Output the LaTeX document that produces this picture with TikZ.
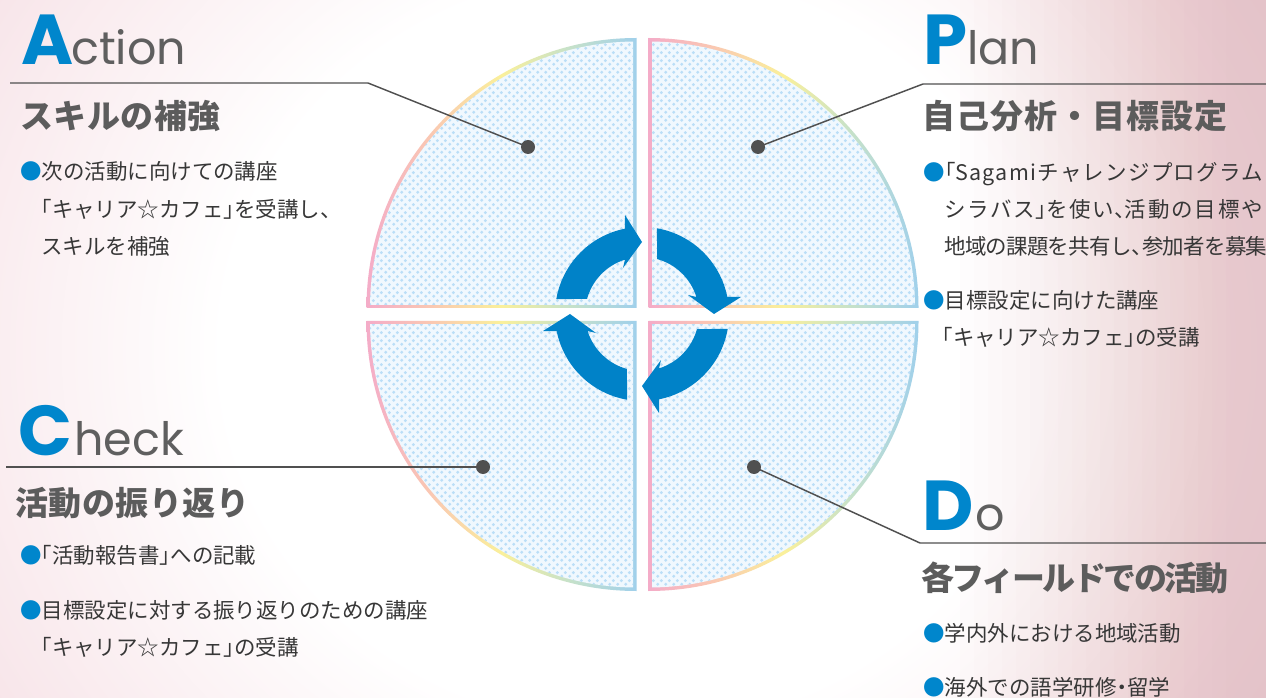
\documentclass[tikz,border=0pt]{standalone}
\usepackage{fontspec}
\setmainfont{Noto Sans CJK JP}
\newfontfamily\jp{Noto Sans CJK JP}
\newfontfamily\jph[RawFeature=+halt]{Noto Sans CJK JP}
\newfontfamily\pop{Poppins}
\usetikzlibrary{calc,patterns}

\definecolor{bgA}{RGB}{248,230,234}
\definecolor{bgB}{RGB}{238,194,202}
\definecolor{bgR}{RGB}{222,150,158}
\definecolor{qpink}{RGB}{244,172,200}
\definecolor{qpeach}{RGB}{250,200,178}
\definecolor{qyellow}{RGB}{250,240,155}
\definecolor{qgreen}{RGB}{200,226,200}
\definecolor{qblue}{RGB}{160,208,235}
\definecolor{qbase}{RGB}{240,248,254}
\definecolor{qdot}{RGB}{186,222,247}
\definecolor{arrowblue}{RGB}{0,130,200}
\definecolor{titleblue}{RGB}{0,134,204}
\definecolor{leadgray}{RGB}{80,80,80}
\definecolor{headgray}{RGB}{92,92,92}
\definecolor{bodygray}{RGB}{55,55,55}
\definecolor{lowgray}{RGB}{95,95,95}

\pgfdeclareradialshading{bgrad}{\pgfpoint{0bp}{0bp}}{color(0bp)=(white); color(14bp)=(white); color(25bp)=(bgA); color(36bp)=(bgB); color(50bp)=(bgB)}
\pgfdeclarehorizontalshading{rainbowq}{100bp}{color(0bp)=(qpink); color(25bp)=(qpink); color(37bp)=(qpeach); color(50bp)=(qyellow); color(62bp)=(qgreen); color(75bp)=(qblue); color(100bp)=(qblue)}
\pgfdeclarepatternformonly{qdots}{\pgfqpoint{0pt}{0pt}}{\pgfqpoint{6pt}{6pt}}{\pgfqpoint{6pt}{6pt}}{%
  \pgfpathcircle{\pgfqpoint{1.5pt}{1.5pt}}{1.35pt}%
  \pgfpathcircle{\pgfqpoint{4.5pt}{4.5pt}}{1.35pt}%
  \pgfusepath{fill}}

\newcommand\hb[1]{{\jph #1}}
\newcommand\blt{{\color{titleblue}●}}
\newcommand\lsp[2]{{\addfontfeatures{LetterSpace=#1}#2}}

\newcommand\quadrant[5]{%
  \shade[shading=rainbowq] (#1,#2) -- ++(#5:270) arc[start angle=#5, delta angle=90, radius=270] -- cycle;
  \begin{scope}
    \clip ({#1+(#3)*3.5},{#2+(#4)*3.5}) rectangle ({#1+(#3)*300},{#2+(#4)*300});
    \fill[qfill] (#1,#2) circle[radius=266.5];
  \end{scope}}

\tikzset{
  qfill/.style={fill=qbase, postaction={pattern=qdots, pattern color=qdot}},
  leader/.style={draw=leadgray, line width=1.1pt},
  dotn/.style={circle, fill=leadgray, minimum size=10.5pt, inner sep=0pt},
  capL/.style={anchor=base west, inner sep=0pt, text=titleblue, font=\pop\bfseries\fontsize{53pt}{53pt}\selectfont},
  lowL/.style={anchor=base west, inner sep=0pt, text=lowgray, font=\pop\fontsize{34.5pt}{34.5pt}\selectfont},
  headL/.style={anchor=base west, inner sep=0pt, text=headgray, font=\jp\bfseries\fontsize{24.75pt}{24.75pt}\selectfont},
  bodyL/.style={anchor=base west, inner sep=0pt, text=bodygray, font=\jp\fontsize{16.1pt}{16.1pt}\selectfont},
}

\begin{document}
\begin{tikzpicture}[x=0.75pt,y=-0.75pt]
\useasboundingbox (0,0) rectangle (1266,698);
% background
\begin{scope}
  \clip (0,0) rectangle (1266,698);
  \shade[shading=bgrad] (-100,-320) rectangle (1366,1018);
  \foreach \i in {0,...,19}{
    \fill[bgR, fill opacity=0.02] ({960+\i*14},0) rectangle (1266,698);}
\end{scope}

% quadrants
\quadrant{636.5}{308}{-1}{-1}{180}
\quadrant{648.5}{308}{1}{-1}{270}
\quadrant{648.5}{321}{1}{1}{0}
\quadrant{636.5}{321}{-1}{1}{90}

% cycle arrows
\foreach \r in {0,-90,-180,-270}{
  \begin{scope}[shift={(642,314)}, rotate=\r]
    \fill[arrowblue] (-170.1:87) arc[start angle=-170.1, end angle=-101.3, radius=87]
      -- (-17,-99) -- (0,-72) -- (-19,-46) -- (-107.4:57)
      arc[start angle=-107.4, end angle=-164.7, radius=57] -- cycle;
  \end{scope}}

% leader dots and lines
\node[dotn] (dA) at (528,147) {};
\node[dotn] (dP) at (758,147) {};
\node[dotn] (dC) at (483,467) {};
\node[dotn] (dD) at (754,467) {};
\coordinate (lA) at (10,83);  \coordinate (kA) at (368,83);
\coordinate (rP) at (1266,84); \coordinate (kP) at (923,84);
\coordinate (lC) at (6,467);
\coordinate (kD) at (920,543); \coordinate (rD) at (1266,543);
\draw[leader] (lA) -- (kA) -- (dA.center);
\draw[leader] (rP) -- (kP) -- (dP.center);
\draw[leader] (lC) -- (dC.center);
\draw[leader] (dD.center) -- (kD) -- (rD);

% titles
\node[capL] (tA) at (21,65) {A};
\node[lowL] (tA2) at (71,65) {ction};
\node[capL] (tP) at (923,65) {P};
\node[lowL] (tP2) at (967,65) {lan};
\node[capL] (tC) at (18,455) {C};
\node[lowL] (tC2) at (74,455) {heck};
\node[capL] (tD) at (922,530) {D};
\node[lowL] (tD2) at (975,530) {o};

% headings
\node[headL] (hA) at (20,129) {\lsp{1.5}{スキルの補強}};
\node[headL] (hP) at (922,129) {\lsp{3}{自己分析・目標設定}};
\node[headL] (hC) at (15,515) {\lsp{1.5}{活動の振り返り}};
\node[headL] (hD) at (921,590) {\lsp{-7.5}{各フィールドでの活動}};

% body: Action
\node[bodyL] (a1) at (20,180) {\blt 次の活動に向けての講座};
\node[bodyL] (a2) at (41,218) {\hb{「}キャリア☆カフェ\hb{」}を受講し\hb{、}};
\node[bodyL] (a3) at (41,255) {スキルを補強};
% body: Plan
\node[bodyL] (p1) at (923,181) {\blt\hb{「}\lsp{6}{Sagamiチャレンジプログラム}};
\node[bodyL] (p2) at (944,218) {\lsp{8.5}{シラバス}\hb{」}\lsp{8.5}{を使い}\hb{、}\lsp{8.5}{活動の目標や}};
\node[bodyL] (p3) at (944,255) {\lsp{-3.5}{地域の課題を共有し}\hb{、}\lsp{-3.5}{参加者を募集}};
\node[bodyL] (p4) at (923,309) {\blt 目標設定に向けた講座};
\node[bodyL] (p5) at (942,345) {\hb{「}キャリア☆カフェ\hb{」}の受講};
% body: Check
\node[bodyL] (c1) at (20,563) {\blt\hb{「}活動報告書\hb{」}への記載};
\node[bodyL] (c2) at (20,618) {\blt 目標設定に対する振り返りのための講座};
\node[bodyL] (c3) at (41,655) {\hb{「}キャリア☆カフェ\hb{」}の受講};
% body: Do
\node[bodyL] (d1) at (923,641) {\blt 学内外における地域活動};
\node[bodyL] (d2) at (923,695) {\blt 海外での語学研修\hb{・}留学};
\end{tikzpicture}
\end{document}
